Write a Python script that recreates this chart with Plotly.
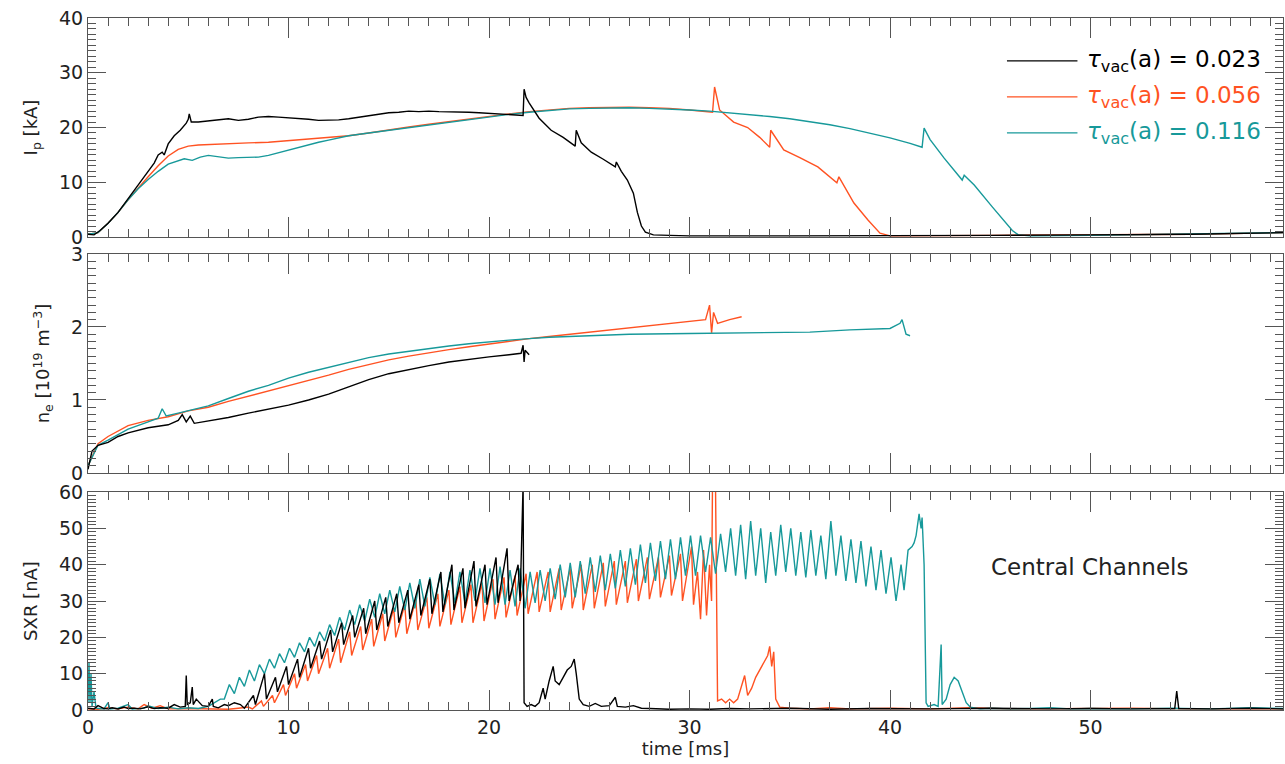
import plotly.graph_objects as go

# ---------------- data ----------------
series_names = ["0.023", "0.056", "0.116"]
colors = ["#000000", "#FF5222", "#17999A"]

# Plasma current Ip [kA]
ip_black_t = [0, 0.3, 0.6, 1.0, 1.5, 2.0, 2.5, 3.0, 3.3, 3.5, 3.7, 3.8, 4.0, 4.3, 4.6, 4.9, 5.0, 5.05, 5.15, 5.5, 6.0, 6.5, 7.0, 7.5, 8.0, 8.5, 9.0, 9.5, 10.0, 10.5, 11.0, 11.5, 12.0, 12.5, 13.0, 13.5, 14.0, 14.5, 15.0, 15.5, 16.0, 16.5, 17.0, 17.5, 18.0, 18.5, 19.0, 19.5, 20.0, 20.5, 21.0, 21.5, 21.7, 21.75, 21.85, 22.0, 22.5, 23.1, 23.7, 24.3, 24.35, 24.6, 25.1, 25.7, 26.3, 26.35, 26.6, 26.9, 27.2, 27.4, 27.6, 27.8, 28.2, 29, 30, 35, 40, 45, 50, 55, 59.6]
ip_black_v = [0.5, 0.4, 1.2, 2.5, 4.5, 7, 9.5, 12, 13.5, 15, 15.5, 15, 17, 18.5, 19.5, 20.8, 21.5, 22.5, 21, 21, 21.2, 21.5, 21.6, 21.3, 21.5, 21.9, 22.0, 21.9, 21.8, 21.6, 21.5, 21.3, 21.3, 21.4, 21.6, 21.9, 22.2, 22.5, 22.7, 22.8, 23.0, 22.9, 23.0, 22.9, 22.9, 22.8, 22.8, 22.7, 22.6, 22.5, 22.3, 22.3, 22.2, 27, 25.5, 24.5, 21.7, 19.5, 18.2, 16.6, 19.5, 17.2, 15.5, 14.2, 12.8, 13.7, 12.0, 10.4, 8, 4.5, 2.0, 0.9, 0.4, 0.3, 0.2, 0.2, 0.2, 0.3, 0.4, 0.5, 0.8]

ip_orange_t = [0, 0.5, 1, 1.5, 2, 2.5, 3, 3.5, 4, 4.5, 5, 5.5, 6, 7, 8, 9, 10, 11, 12, 13, 14, 15, 16, 17, 18, 19, 20, 21, 22, 23, 24, 25, 26, 27, 28, 29, 30, 31, 31.15, 31.25, 31.5, 32.2, 32.9, 33.5, 34.0, 34.05, 34.7, 35.5, 36.4, 37.35, 37.45, 38.2, 38.9, 39.5, 40, 45, 50, 55, 59.6]
ip_orange_v = [0.5, 0.8, 2.5, 4.5, 6.8, 9, 11, 13, 14.8, 16, 16.6, 16.8, 16.9, 17.0, 17.2, 17.3, 17.6, 17.8, 18.1, 18.5, 19.0, 19.6, 20.1, 20.6, 21.1, 21.6, 22.0, 22.5, 22.9, 23.2, 23.5, 23.6, 23.7, 23.7, 23.6, 23.5, 23.2, 22.9, 22.8, 27.4, 23.2, 21, 20, 18.2, 16.4, 19.5, 15.9, 14.5, 12.8, 9.9, 11, 6.2, 3.1, 0.7, 0.2, 0.3, 0.4, 0.5, 0.8]

ip_teal_t = [0, 0.5, 1, 1.5, 2, 2.5, 3, 3.5, 4, 4.5, 4.8, 5.2, 5.6, 6, 6.5, 7, 7.5, 8, 8.5, 9, 9.5, 10, 10.5, 11, 11.5, 12, 12.5, 13, 14, 15, 16, 17, 18, 19, 20, 21, 22, 23, 24, 25, 26, 27, 28, 29, 30, 31, 32, 33, 34, 35, 36, 37, 38, 39, 40, 41, 41.6, 41.7, 42.0, 42.7, 43.2, 43.6, 43.7, 44.2, 45.1, 45.7, 46.1, 46.4, 47, 50, 55, 59.6]
ip_teal_v = [0.5, 0.8, 2.5, 4.5, 6.8, 8.8, 10.5, 12, 13.3, 14.0, 14.3, 14.0, 14.6, 14.9, 14.6, 14.4, 14.5, 14.6, 14.6, 14.9, 15.4, 15.9, 16.4, 16.9, 17.3, 17.7, 18.1, 18.5, 19.0, 19.5, 20.0, 20.5, 21.0, 21.5, 21.9, 22.4, 22.8, 23.1, 23.4, 23.5, 23.6, 23.6, 23.5, 23.4, 23.2, 23.0, 22.7, 22.4, 22.0, 21.6, 21.1, 20.5, 19.8, 19.0, 18.1, 17.1, 16.4, 19.9, 17.8, 14.4, 12.2, 10.4, 11.3, 9.5, 5.5, 3.0, 1.2, 0.4, 0.2, 0.3, 0.5, 0.8]

# Electron density ne [1e19 m^-3]
ne_black_t = [0, 0.2, 0.5, 1, 1.5, 2, 3, 4, 4.5, 4.7, 4.9, 5.1, 5.3, 6, 7, 8, 9, 10, 11, 12, 13, 14, 15, 16, 17, 18, 19, 20, 21, 21.6, 21.7, 21.75, 21.8, 22]
ne_black_v = [0.05, 0.3, 0.38, 0.42, 0.5, 0.55, 0.62, 0.66, 0.72, 0.8, 0.7, 0.78, 0.68, 0.71, 0.76, 0.82, 0.87, 0.93, 1.0, 1.08, 1.18, 1.28, 1.36, 1.42, 1.47, 1.52, 1.56, 1.59, 1.62, 1.64, 1.75, 1.52, 1.68, 1.62]

ne_orange_t = [0, 0.5, 1, 2, 3, 4, 5, 6, 7, 8, 9, 10, 11, 12, 13, 14, 15, 16, 17, 18, 19, 20, 21, 22, 23, 24, 25, 26, 27, 28, 29, 30, 30.8, 31.0, 31.1, 31.2, 31.4, 32, 32.6]
ne_orange_v = [0.1, 0.4, 0.5, 0.65, 0.72, 0.77, 0.85, 0.9, 0.98, 1.05, 1.12, 1.2, 1.27, 1.34, 1.42, 1.49, 1.55, 1.6, 1.65, 1.69, 1.73, 1.77, 1.8, 1.84, 1.87, 1.9, 1.93, 1.96, 1.99, 2.02, 2.05, 2.08, 2.1, 2.3, 1.92, 2.2, 2.05, 2.1, 2.14]

ne_teal_t = [0, 0.5, 1, 2, 3, 3.5, 3.7, 3.9, 4.5, 5, 6, 7, 8, 9, 10, 11, 12, 13, 14, 15, 16, 17, 18, 19, 20, 21, 22, 23, 25, 27, 30, 33, 36, 38, 39, 40, 40.5, 40.6, 40.8, 41]
ne_teal_v = [0.1, 0.38, 0.45, 0.6, 0.7, 0.75, 0.88, 0.78, 0.82, 0.85, 0.92, 1.02, 1.12, 1.2, 1.3, 1.38, 1.45, 1.52, 1.58, 1.63, 1.67, 1.71, 1.74, 1.77, 1.8, 1.82, 1.84, 1.86, 1.88, 1.9, 1.91, 1.92, 1.93, 1.96, 1.97, 1.98, 2.05, 2.1, 1.9, 1.88]

# Soft X-ray, central channels [nA]
sxr_black_t = [0, 0.3, 0.5, 0.8, 1.0, 1.2, 1.5, 1.8, 2.0, 2.3, 2.6, 3.0, 3.3, 3.6, 4.0, 4.3, 4.6, 4.85, 4.9, 4.95, 5.1, 5.2, 5.25, 5.4, 5.7, 6.0, 6.2, 6.25, 6.5, 6.8, 7.0, 7.3, 7.6,
               7.8, 8.25, 8.35, 8.8, 8.9, 9.35, 9.45, 9.9, 10.0, 10.45, 10.55, 11.0, 11.1, 11.55, 11.65, 12.1, 12.2, 12.65, 12.75, 13.2, 13.3, 13.75, 13.85, 14.3, 14.4, 14.85, 14.95, 15.4, 15.5, 15.95, 16.05, 16.5, 16.6, 17.05, 17.15, 17.6, 17.7, 18.15, 18.25, 18.7, 18.8, 19.25, 19.35, 19.8, 19.9, 20.35, 20.45, 20.9, 21.0, 21.45, 21.55, 21.7, 21.75,
               21.9, 22.1, 22.3, 22.5, 22.7, 22.8, 23.0, 23.2, 23.3, 23.5, 23.7, 23.9, 24.1, 24.25, 24.35, 24.5, 24.7, 25.0, 25.3, 25.6, 26.0, 26.3, 26.4, 26.8, 27.2, 27.6, 28.0, 29, 30, 31, 32, 33, 35, 37, 39, 42, 45, 48, 50, 52, 54.2, 54.3, 54.4, 56, 58, 59.6]
sxr_black_v = [0.5, 0.3, 1.2, 0.4, 0.3, 0.6, 0.3, 0.8, 0.4, 0.5, 0.3, 0.9, 0.4, 0.6, 0.5, 1.5, 0.8, 1, 9.5, 1.5, 2, 6.3, 1.5, 3, 1.2, 1, 3, 1, 0.6, 1.5, 1.2, 2, 1.5,
               0.5, 4, 1.5, 10, 3, 9, 5, 12, 7, 14, 9, 17, 11.5, 19, 14, 22, 16, 24, 18, 26, 20, 28, 21, 30, 22, 31, 23, 32, 24, 33, 25, 34.5, 26, 36, 26.5, 38, 27, 40, 27.5, 39, 28, 41, 28.5, 40, 29, 42, 29.5, 44.5, 30, 40, 30, 62, 2,
               1, 1.5, 1, 2, 6, 3, 8, 12, 8, 7, 9, 11, 12, 14, 10, 3, 1.5, 1, 1.8, 1, 1.2, 3.5, 1, 0.8, 1.2, 0.5, 0.4, 0.2, 0.3, 0.2, 0.4, 0.3, 0.5, 0.2, 0.4, 0.3, 0.5, 0.3, 0.4, 0.3, 0.4, 5.2, 0.4, 0.3, 0.5, 0.3]

sxr_orange_t = [0, 0.5, 1, 1.5, 2, 2.5, 2.8, 3.2, 3.6, 4, 5, 6, 7, 7.5, 8,
                8.2, 8.65, 8.75, 9.2, 9.3, 9.75, 9.85, 10.3, 10.4, 10.85, 10.95, 11.4, 11.5, 11.95, 12.05, 12.5, 12.6, 13.05, 13.15, 13.6, 13.7, 14.15, 14.25, 14.7, 14.8, 15.25, 15.35, 15.8, 15.9, 16.35, 16.45, 16.9, 17.0, 17.45, 17.55, 18.0, 18.1, 18.55, 18.65, 19.1, 19.2, 19.65, 19.75, 20.2, 20.3, 20.75, 20.85, 21.3, 21.4, 21.85, 21.95, 22.4, 22.5, 22.95, 23.05, 23.5, 23.6, 24.05, 24.15, 24.6, 24.7, 25.15, 25.25, 25.7, 25.8, 26.25, 26.35, 26.8, 26.9, 27.35, 27.45, 27.9, 28.0, 28.45, 28.55, 29.0, 29.1, 29.55, 29.65, 30.1,
                30.2, 30.4, 30.55, 30.7, 30.85, 31.0, 31.1, 31.15, 31.3, 31.4, 31.6, 31.8, 32.0, 32.2, 32.4, 32.6, 32.75, 32.9, 33.1, 33.3, 33.5, 33.7, 33.9, 34.0, 34.1, 34.2, 34.3, 34.5, 35, 36, 37, 38, 40, 42, 44, 46, 48, 50, 52, 55, 58, 59.6]
sxr_orange_v = [0.3, 0.2, 0.6, 0.3, 0.8, 0.3, 1.5, 0.5, 1.2, 0.3, 0.4, 0.3, 0.2, 0.5, 0.8,
                0.3, 2.5, 1, 4, 2, 7, 4, 10, 6, 12.5, 8, 15, 10, 17, 11.5, 19.5, 13, 21.5, 15, 23, 16.5, 25, 17.5, 26.5, 19, 28, 20, 29, 21, 30.5, 22, 31, 22.5, 32, 23, 33, 23.5, 34, 24, 34.5, 24, 35, 24.5, 36, 25, 36.5, 25.5, 37, 26, 37.5, 26.5, 38, 27, 38, 27, 39, 27.5, 39, 28, 40, 27.5, 40, 28, 40.5, 28.5, 41, 29, 41, 29.5, 41.5, 30, 42, 30.5, 42, 31, 42.5, 31.5, 43, 30, 45,
                29, 38, 25, 44, 26, 40, 30, 65, 60, 2.5, 3, 2, 3, 2, 3, 7, 9.5, 4, 6, 9, 11, 13, 15, 17.5, 12, 16, 3, 0.8, 0.5, 0.3, 0.6, 0.3, 0.5, 0.3, 0.6, 0.3, 0.4, 0.3, 0.5, 0.3, 0.4, 0.3]

sxr_teal_t = [0, 0.05, 0.1, 0.15, 0.2, 0.3, 0.4, 0.8, 1.0, 1.1, 1.5, 2.0, 2.2, 2.8, 3.0, 3.5, 4.0, 4.5, 5.0, 5.5, 6.0, 6.3, 6.6,
              6.8, 7.05, 7.3, 7.55, 7.8, 8.05, 8.3, 8.55, 8.8, 9.05, 9.3, 9.55, 9.8, 10.05, 10.3, 10.55, 10.8, 11.05, 11.3, 11.55, 11.8, 12.05, 12.3, 12.55, 12.8, 13.05, 13.3, 13.55, 13.8, 14.05, 14.3, 14.55, 14.8, 15.05, 15.3, 15.55, 15.8, 16.05, 16.3, 16.55, 16.8, 17.05, 17.3, 17.55, 17.8, 18.05, 18.3, 18.55, 18.8, 19.05, 19.3, 19.55, 19.8, 20.05, 20.3, 20.55, 20.8, 21.05, 21.3, 21.55, 21.8, 22.05, 22.3, 22.55, 22.8, 23.05, 23.3, 23.55, 23.8, 24.05, 24.3, 24.55, 24.8, 25.05, 25.3, 25.55, 25.8, 26.05, 26.3, 26.55, 26.8, 27.05, 27.3, 27.55, 27.8, 28.05, 28.3, 28.55, 28.8, 29.05, 29.3, 29.55, 29.8, 30.05, 30.3, 30.55, 30.8, 31.05, 31.3, 31.55, 31.8, 32.05, 32.3, 32.55, 32.8, 33.05, 33.3, 33.55, 33.8, 34.05, 34.3, 34.55, 34.8, 35.05, 35.3, 35.55, 35.8, 36.05, 36.3, 36.55, 36.8, 37.05, 37.3, 37.55, 37.8, 38.05, 38.3, 38.55, 38.8, 39.05, 39.3, 39.55, 39.8, 40.05, 40.3, 40.55,
              40.7, 40.9, 41.1, 41.2, 41.3, 41.45, 41.55, 41.6, 41.7, 41.8, 41.9, 42.2, 42.4, 42.55, 42.6, 42.8, 43.0, 43.2, 43.4, 43.6, 43.8, 44.0, 44.5, 45, 46, 47, 48, 49, 50, 52, 54, 56, 58, 59.6]
sxr_teal_v = [2, 13, 2, 10, 1, 5, 0.5, 0.3, 2, 0.3, 0.5, 1.5, 0.3, 0.5, 1.2, 0.4, 0.8, 0.3, 0.6, 0.4, 1, 2, 3,
              3, 7, 4.5, 9, 6.5, 11, 8, 12.5, 10, 14, 11.5, 15.5, 13, 17, 14.5, 18.5, 16, 20, 17.5, 21.5, 19, 23.5, 20.5, 25.5, 22, 27.5, 23.5, 29, 24.5, 30.5, 25.5, 32, 26.5, 33, 27, 34, 27.5, 35, 28, 36, 28.5, 36.5, 29, 37.5, 29, 38, 29.5, 38, 29.5, 38.5, 30, 39, 29.5, 39, 29, 39.5, 29, 38.5, 28.5, 39, 28, 38, 29.5, 38.5, 30, 39, 30.5, 40, 31, 40.5, 31, 41, 32, 42, 32.5, 42.5, 33, 43, 33.5, 44, 34, 44.5, 34.5, 45.5, 35, 46, 35.5, 46.5, 36, 47, 36, 47.5, 37, 48, 37, 48, 38, 47.5, 37.5, 48.5, 38, 50, 37, 51, 36, 52, 37, 50, 35, 49, 37, 51, 38, 50, 37, 49, 36.5, 49.5, 37, 48, 36, 52, 37, 48, 35.5, 47, 35, 46.5, 34, 45, 33, 44, 32, 42, 30, 40,
              33, 44, 45, 46, 48, 54, 50, 53, 40, 2, 1, 1.5, 1, 18, 1.5, 3, 7, 9, 8, 5, 2, 0.8, 0.3, 0.5, 0.3, 0.4, 0.6, 0.3, 0.4, 0.3, 0.5, 0.3, 0.6, 0.4]

ip_t = [ip_black_t, ip_orange_t, ip_teal_t]
ip_v = [ip_black_v, ip_orange_v, ip_teal_v]
ne_t = [ne_black_t, ne_orange_t, ne_teal_t]
ne_v = [ne_black_v, ne_orange_v, ne_teal_v]
sxr_t = [sxr_black_t, sxr_orange_t, sxr_teal_t]
sxr_v = [sxr_black_v, sxr_orange_v, sxr_teal_v]

x_ticks = [0, 10, 20, 30, 40, 50]
ip_ticks = [0, 10, 20, 30, 40]
ne_ticks = [0, 1, 2, 3]
sxr_ticks = [0, 10, 20, 30, 40, 50, 60]

# ---------------- figure ----------------
FONT = "DejaVu Sans, Verdana, sans-serif"
AX = "#555555"
TXT = "#222222"
fig = go.Figure()

draw_order = [1, 2, 0]  # orange, teal, black on top
for panel, (tt, vv) in enumerate([(ip_t, ip_v), (ne_t, ne_v), (sxr_t, sxr_v)]):
    for i in draw_order:
        fig.add_trace(go.Scatter(
            x=tt[i], y=vv[i], mode="lines",
            line=dict(color=colors[i], width=1.4),
            xaxis="x" if panel == 0 else f"x{panel+1}",
            yaxis="y" if panel == 0 else f"y{panel+1}",
            showlegend=False, hoverinfo="skip"))


def xax(anchor, labels):
    return dict(range=[0, 59.6], anchor=anchor, showline=True, linecolor=AX, linewidth=1,
                mirror="ticks", ticks="inside", ticklen=20, tickcolor=AX, tickwidth=1,
                tickvals=x_ticks, showticklabels=labels, showgrid=False, zeroline=False,
                minor=dict(dtick=1, ticks="inside", ticklen=8, tickcolor=AX, tickwidth=1, showgrid=False),
                tickfont=dict(size=19, color=TXT, family=FONT))


def yax(anchor, rng, ticks, minor, domain, title):
    return dict(range=rng, domain=domain, anchor=anchor, showline=True, linecolor=AX,
                linewidth=1, mirror="ticks", ticks="inside", ticklen=18, tickcolor=AX, tickwidth=1,
                tickvals=ticks, showgrid=False, zeroline=False,
                minor=dict(dtick=minor, ticks="inside", ticklen=8, tickcolor=AX, tickwidth=1, showgrid=False),
                tickfont=dict(size=19, color=TXT, family=FONT),
                title=dict(text=title, font=dict(size=18, color=TXT, family=FONT), standoff=16))


fig.update_layout(
    width=1285, height=764,
    margin=dict(l=88, r=2, t=18, b=54),
    paper_bgcolor="white", plot_bgcolor="white",
    font=dict(family=FONT, color=TXT),
    xaxis=xax("y", False),
    xaxis2=dict(xax("y2", False), matches="x"),
    xaxis3=dict(xax("y3", True), matches="x",
                title=dict(text="time [ms]", font=dict(size=18, color=TXT, family=FONT), standoff=2)),
    yaxis=yax("x", [0, 40], ip_ticks, 1, [0.6835, 1.0], "I<sub>p</sub> [kA]"),
    yaxis2=yax("x2", [0, 3], ne_ticks, 0.1, [0.3425, 0.659], "n<sub>e</sub> [10<sup>19</sup> m<sup>−3</sup>]"),
    yaxis3=yax("x3", [0, 60], sxr_ticks, 1, [0.0, 0.315], "SXR [nA]"),
)

# legend (drawn as line samples + coloured labels)
leg_y = [0.938, 0.886, 0.834]
for i in range(3):
    fig.add_shape(type="line", xref="paper", yref="paper", x0=0.769, x1=0.828,
                  y0=leg_y[i], y1=leg_y[i], line=dict(color=colors[i], width=1.4))
    fig.add_annotation(xref="paper", yref="paper", x=0.834, y=leg_y[i], xanchor="left", yanchor="middle",
                       showarrow=False, text=f"<i>τ</i><sub>vac</sub>(a) = {series_names[i]}",
                       font=dict(size=23, color=colors[i], family=FONT))

fig.add_annotation(xref="paper", yref="paper", x=0.754, y=0.2066, xanchor="left", yanchor="middle",
                   showarrow=False, text="Central Channels", font=dict(size=23, color=TXT, family=FONT))

fig.write_html("out.html")
